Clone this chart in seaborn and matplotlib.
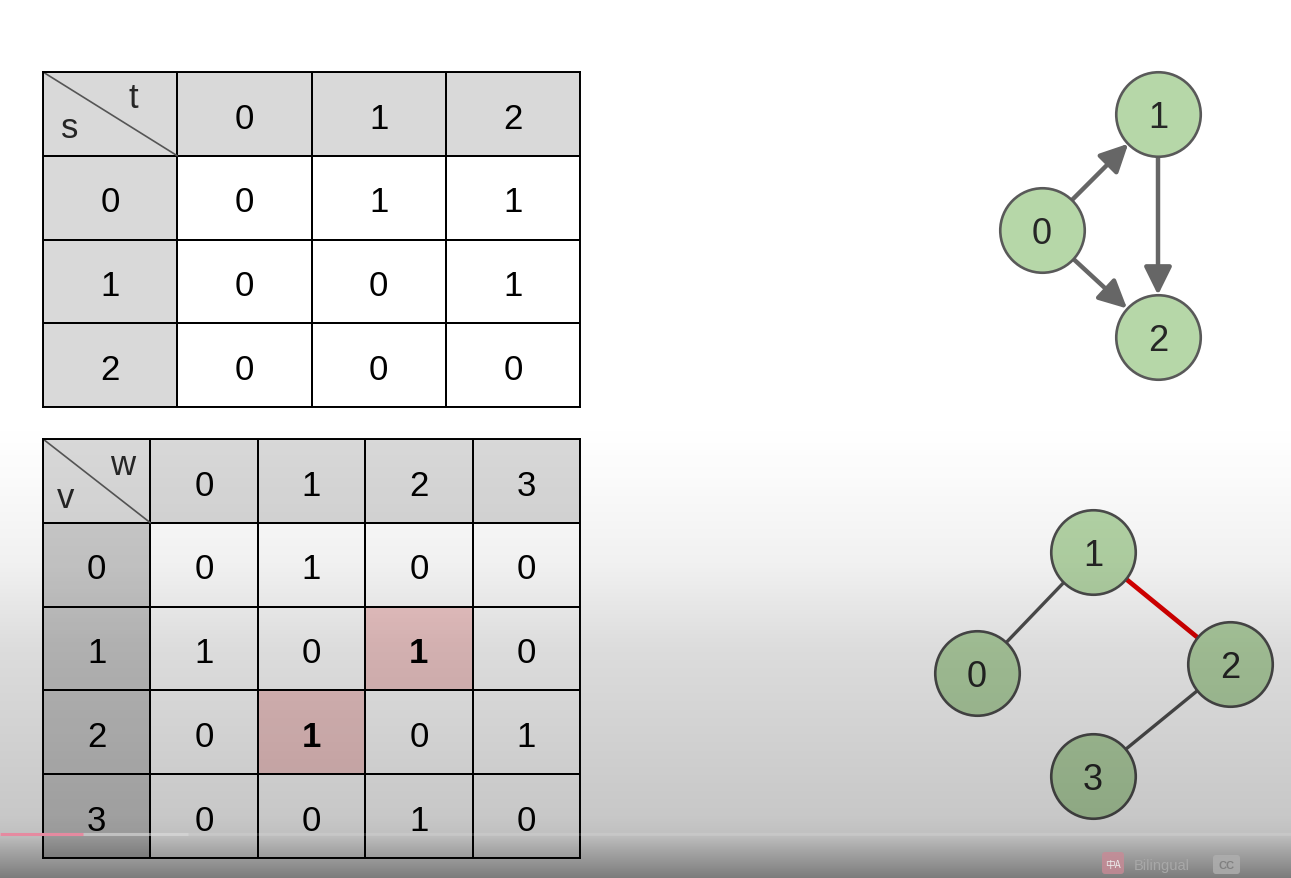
import numpy as np
import matplotlib.pyplot as plt
import seaborn as sns
from matplotlib.colors import ListedColormap
from matplotlib.patches import FancyBboxPatch

# Directed graph: adjacency matrix (s -> t)
directed_labels = ["0", "1", "2"]
directed_adj = [[0, 1, 1],
                [0, 0, 1],
                [0, 0, 0]]
directed_edges = [(0, 1), (0, 2), (1, 2)]

# Undirected graph: adjacency matrix (v - w)
undirected_labels = ["0", "1", "2", "3"]
undirected_adj = [[0, 1, 0, 0],
                  [1, 0, 1, 0],
                  [0, 1, 0, 1],
                  [0, 0, 1, 0]]
undirected_edges = [(0, 1), (1, 2), (2, 3)]
highlight_edge = (1, 2)

# node layout in screen pixels
layout_directed = {"x": [1042, 1158, 1158], "y": [231, 115, 338]}
layout_undirected = {"x": [977, 1093, 1230, 1093], "y": [674, 553, 665, 777]}

W, H = 1291, 879
NODE_R = 42
GREEN = "#b6d7a8"

sns.set_style("white")
plt.rcParams["font.family"] = ["Liberation Sans", "DejaVu Sans"]

fig = plt.figure(figsize=(W / 100, H / 100), dpi=100)
fig.patch.set_facecolor("white")

# background axes in pixel coordinates for the graphs
bg = fig.add_axes([0, 0, 1, 1])
bg.set_xlim(0, W)
bg.set_ylim(H, 0)
bg.axis("off")

# cell colours: body, header row, header column, highlighted
cmap = ListedColormap(["#ffffff", "#d9d9d9", "#cccccc", "#f4cccc"])


def draw_table(px_box, row_name, col_name, labels, adj, highlight=(), head_col=1,
               corner_pos=((0.2, 0.68), (0.67, 0.32))):
    x0, y0, x1, y1 = px_box
    n = len(labels)
    codes = np.zeros((n + 1, n + 1), dtype=int)
    codes[0, :] = 1
    codes[1:, 0] = head_col
    for r, c in highlight:
        codes[r + 1, c + 1] = 3
    text = np.empty((n + 1, n + 1), dtype=object)
    text[0, 0] = ""
    text[0, 1:] = labels
    text[1:, 0] = labels
    text[1:, 1:] = np.array(adj).astype(str)

    ax = fig.add_axes([x0 / W, 1 - y1 / H, (x1 - x0) / W, (y1 - y0) / H])
    sns.heatmap(codes, annot=text, fmt="", cmap=cmap, vmin=-0.5, vmax=3.5,
                cbar=False, linewidths=1.2, linecolor="black",
                xticklabels=False, yticklabels=False,
                annot_kws=dict(fontsize=25, color="black"), ax=ax)
    for s in ax.spines.values():
        s.set_visible(True)
        s.set_linewidth(1.4)
        s.set_color("black")
    for t in ax.texts:
        cx, cy = t.get_position()
        t.set_y(cy + 0.05)
        # bold for highlighted cells
        for r, c in highlight:
            if abs(cx - (c + 1.5)) < 0.01 and abs(cy - (r + 1.5)) < 0.01:
                t.set_fontweight("bold")
    # corner cell: diagonal with row/col names
    ax.plot([0, 1], [0, 1], color="#555555", lw=1.2)
    (sx, sy), (tx, ty) = corner_pos
    ax.text(sx, sy, row_name, fontsize=25, ha="center", va="center")
    ax.text(tx, ty, col_name, fontsize=25, ha="center", va="center")
    return ax


draw_table((43, 73, 580, 408), "s", "t", directed_labels, directed_adj,
           corner_pos=((0.2, 0.66), (0.67, 0.3)))
draw_table((43, 440, 580, 859), "v", "w", undirected_labels, undirected_adj,
           highlight=[highlight_edge, highlight_edge[::-1]], head_col=2,
           corner_pos=((0.21, 0.7), (0.74, 0.3)))


def edge_ends(xs, ys, a, b, r=NODE_R):
    p, q = np.array([xs[a], ys[a]], float), np.array([xs[b], ys[b]], float)
    d = (q - p) / np.linalg.norm(q - p)
    return p + d * r, q - d * r


# directed graph
dx, dy = layout_directed["x"], layout_directed["y"]
for a, b in directed_edges:
    s, e = edge_ends(dx, dy, a, b)
    bg.annotate("", xy=e, xytext=s,
                arrowprops=dict(arrowstyle="-|>,head_length=0.85,head_width=0.42",
                                mutation_scale=20, lw=3.2, color="#666666",
                                shrinkA=0, shrinkB=0))
sns.scatterplot(x=dx, y=dy, s=3700, color=GREEN, edgecolor="#595959",
                linewidth=1.9, ax=bg, legend=False, zorder=3)
for i, lab in enumerate(directed_labels):
    bg.text(dx[i], dy[i] + 4, lab, fontsize=26, ha="center", va="center", zorder=4)

# undirected graph
ux, uy = layout_undirected["x"], layout_undirected["y"]
for a, b in undirected_edges:
    s, e = edge_ends(ux, uy, a, b)
    red = (a, b) == highlight_edge
    bg.plot([s[0], e[0]], [s[1], e[1]], color="#e00000" if red else "#505050",
            lw=3.4 if red else 2.4, solid_capstyle="butt", zorder=2)
sns.scatterplot(x=ux, y=uy, s=3700, color=GREEN, edgecolor="#4d4d4d",
                linewidth=1.9, ax=bg, legend=False, zorder=3)
for i, lab in enumerate(undirected_labels):
    bg.text(ux[i], uy[i] + 4, lab, fontsize=26, ha="center", va="center", zorder=4)

# video-player darkening towards the bottom
ov = fig.add_axes([0, 0, 1, 1], zorder=20)
ov.set_xlim(0, W)
ov.set_ylim(H, 0)
ov.axis("off")
rows = np.arange(H)
shade = np.interp(rows, [0, 420, 480, 566, 650, 734, 817, 835, 852, 879],
                  [0, 0, 0.02, 0.06, 0.14, 0.18, 0.22, 0.25, 0.36, 0.52])
img = np.zeros((H, 1, 4))
img[:, 0, 3] = shade
ov.imshow(img, aspect="auto", extent=(0, W, H, 0), interpolation="bilinear")

# player progress bar and controls
ov.plot([0, W], [835, 835], color="white", alpha=0.12, lw=2.2, solid_capstyle="butt")
ov.plot([0, 188], [835, 835], color="#dddddd", alpha=0.5, lw=2.2, solid_capstyle="butt")
ov.plot([0, 83], [835, 835], color="#e58aa0", lw=2.2, solid_capstyle="butt")
ov.add_patch(FancyBboxPatch((1102, 853), 22, 22, boxstyle="round,pad=0,rounding_size=3",
                            fc="#c98a96", ec="none", alpha=0.8))
ov.text(1113, 865, "中A", fontsize=7, color="#eeeeee", ha="center", va="center",
        family=["Noto Sans CJK SC", "DejaVu Sans"])
ov.text(1134, 866, "Bilingual", fontsize=10.5, color="#a8a8a8", ha="left", va="center")
ov.add_patch(FancyBboxPatch((1213, 856), 27, 19, boxstyle="round,pad=0,rounding_size=3",
                            fc="#b0b0b0", ec="none", alpha=0.8))
ov.text(1226.5, 866, "CC", fontsize=8, color="#808080", ha="center", va="center",
        fontweight="bold")

fig.savefig("out.png", dpi=100)
